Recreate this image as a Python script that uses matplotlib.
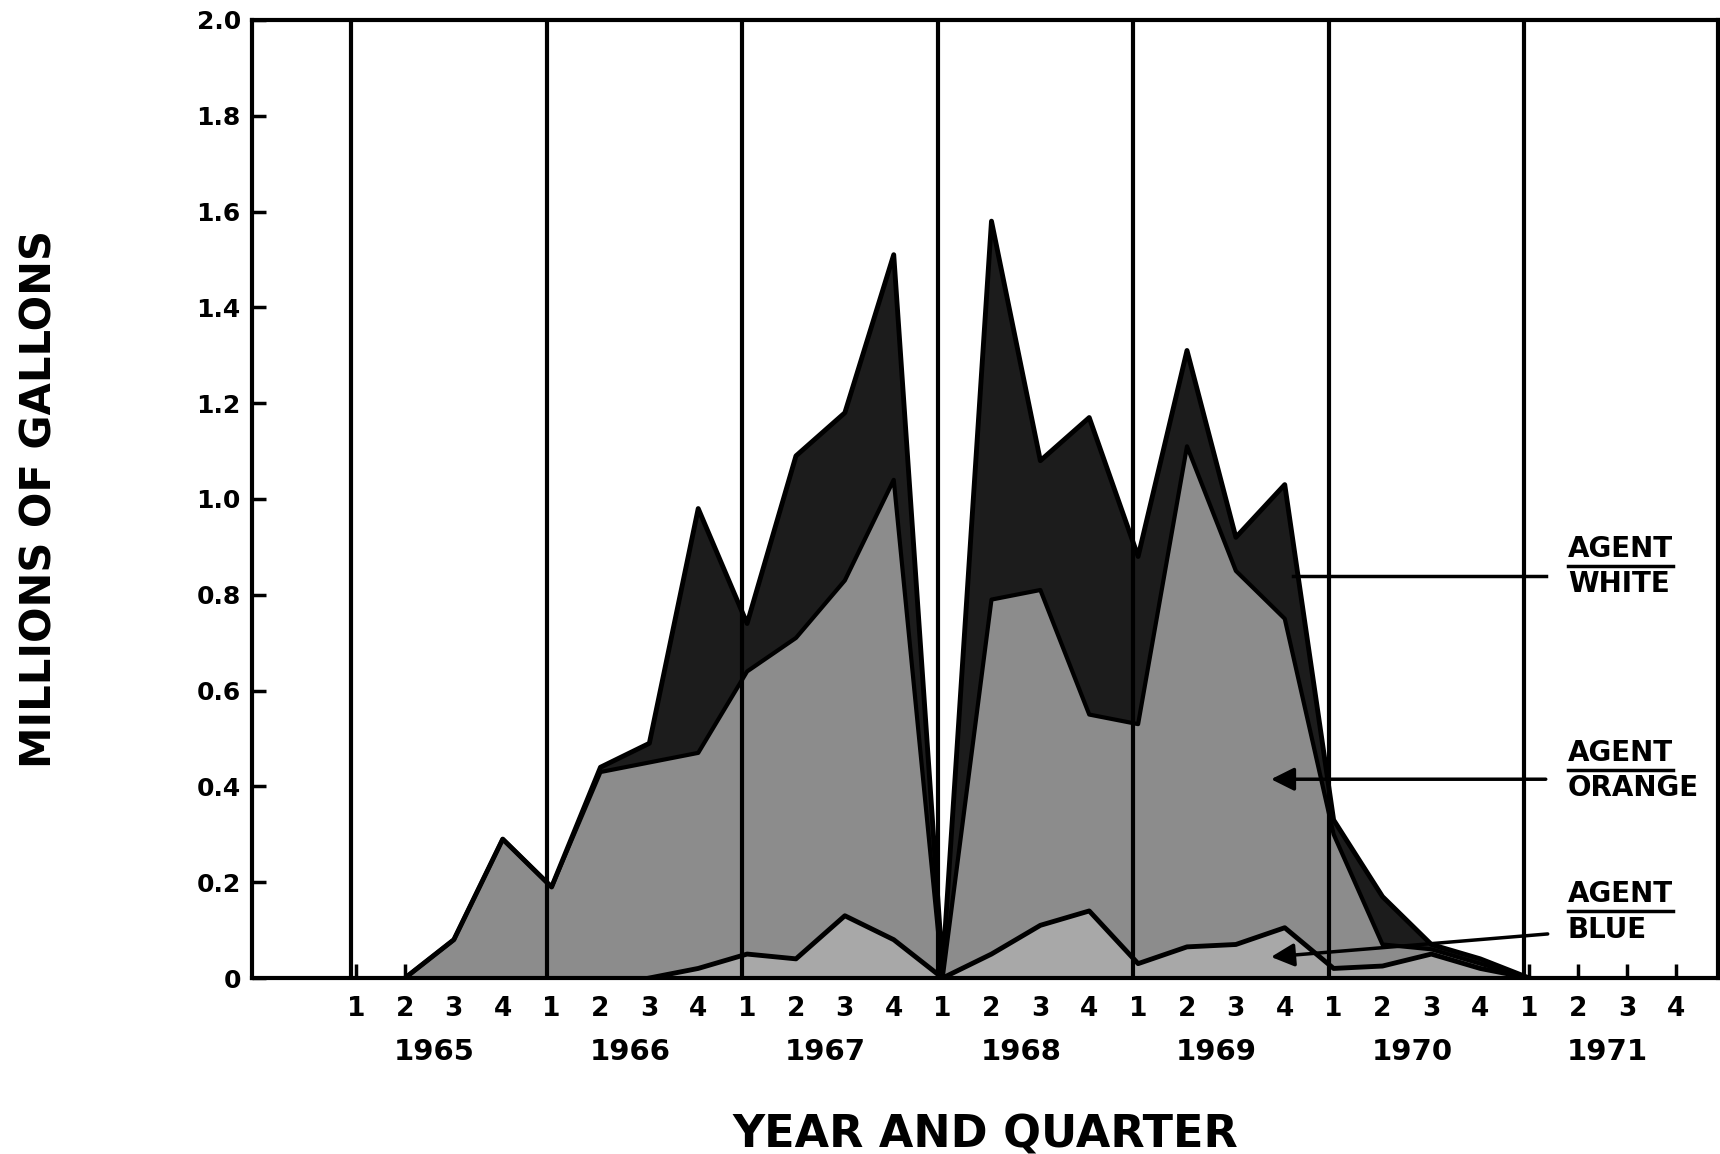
import matplotlib
matplotlib.use("Agg")
import matplotlib.pyplot as plt
import numpy as np

# quarter index 0 = 1965 Q1 ... 24 = 1971 Q1
quarters = np.arange(25)
years = ["1965", "1966", "1967", "1968", "1969", "1970", "1971"]
quarter_labels = ["1", "2", "3", "4"]

# millions of gallons per quarter
blue = [0, 0, 0, 0, 0, 0, 0, 0.02, 0.05, 0.04, 0.13, 0.08, 0,
        0.05, 0.11, 0.14, 0.03, 0.065, 0.07, 0.105, 0.02, 0.025, 0.05, 0.02, 0]
orange = [0, 0, 0.08, 0.29, 0.19, 0.43, 0.45, 0.45, 0.59, 0.67, 0.70, 0.96, 0,
          0.74, 0.70, 0.41, 0.50, 1.045, 0.78, 0.645, 0.28, 0.045, 0.01, 0.01, 0]
white = [0, 0, 0, 0, 0, 0.01, 0.04, 0.51, 0.10, 0.38, 0.35, 0.47, 0.02,
         0.79, 0.27, 0.62, 0.35, 0.20, 0.07, 0.28, 0.03, 0.10, 0.01, 0.01, 0]

blue = np.array(blue)
orange_top = blue + np.array(orange)
total = orange_top + np.array(white)

plt.rcParams['font.family'] = ['DejaVu Sans']
plt.rcParams['font.weight'] = 'bold'

fig = plt.figure(figsize=(17.2, 11.54), dpi=100)
ax = fig.add_axes([0.1465, 0.1525, 0.8525, 0.8302])

ax.fill_between(quarters, orange_top, total, color='#1c1c1c', lw=0, zorder=2)
ax.fill_between(quarters, blue, orange_top, color='#8c8c8c', lw=0, zorder=2)
ax.fill_between(quarters, 0, blue, color='#a8a8a8', lw=0, zorder=2)

ax.plot(quarters[1:], total[1:], color='black', lw=3.5, zorder=4)
ax.plot(quarters[1:], orange_top[1:], color='black', lw=3, zorder=4)
ax.plot(quarters[6:], blue[6:], color='black', lw=3.5, zorder=4)

# year dividers
for k in range(7):
    ax.axvline(4 * k - 0.1, color='black', lw=3, zorder=3)

ax.set_xlim(-2.13, 27.87)
ax.set_ylim(0, 2.0)

yt = np.arange(0, 2.01, 0.2)
ax.set_yticks(yt)
ax.set_yticklabels(["0"] + ["%.1f" % v for v in yt[1:]], fontsize=18, fontweight='bold')
ax.set_xticks(np.arange(28))
ax.set_xticklabels(quarter_labels * 7, fontsize=19, fontweight='bold')
ax.tick_params(axis='both', direction='in', length=10, width=2.5)
ax.tick_params(axis='x', pad=13)
ax.tick_params(axis='y', pad=8)

for s in ax.spines.values():
    s.set_linewidth(3)

for k, yr in enumerate(years):
    ax.text(4 * k + 1.6, -0.155, yr, ha='center', va='center', fontsize=21,
            fontweight='bold', transform=ax.transData, clip_on=False)

ax.set_xlabel("YEAR AND QUARTER", fontsize=32, fontweight='bold', labelpad=66)
ax.set_ylabel("MILLIONS OF GALLONS", fontsize=30, fontweight='bold', labelpad=98)

# agent labels with pointer lines
labels = [("WHITE", 0.896, 0.823), ("ORANGE", 0.47, 0.397), ("BLUE", 0.175, 0.10)]
tx = 24.79
agent_texts = []
for name, y1, y2 in labels:
    t = ax.text(tx, y1, "AGENT", fontsize=20, fontweight='bold', va='center', zorder=6)
    ax.text(tx, y2, name, fontsize=20, fontweight='bold', va='center', zorder=6)
    agent_texts.append(t)

ax.plot([19.17, 24.34], [0.84, 0.84], color='black', lw=2.5, zorder=5)
ax.annotate("", xy=(18.72, 0.415), xytext=(24.34, 0.415),
            arrowprops=dict(arrowstyle='-|>', color='black', lw=2.5,
                            mutation_scale=35, shrinkA=0, shrinkB=0), zorder=5)
ax.annotate("", xy=(18.72, 0.044), xytext=(24.38, 0.092),
            arrowprops=dict(arrowstyle='-|>', color='black', lw=2.5,
                            mutation_scale=35, shrinkA=0, shrinkB=0), zorder=5)

# underline "AGENT"
fig.canvas.draw()
inv = ax.transData.inverted()
for t in agent_texts:
    bb = t.get_window_extent()
    (x0, y0), (x1, _) = inv.transform([(bb.x0, bb.y0 - 3), (bb.x1, bb.y0 - 3)])
    ax.plot([x0, x1], [y0, y0], color='black', lw=2.5, zorder=6, clip_on=False)

fig.savefig("out.png", dpi=100, facecolor='white')
